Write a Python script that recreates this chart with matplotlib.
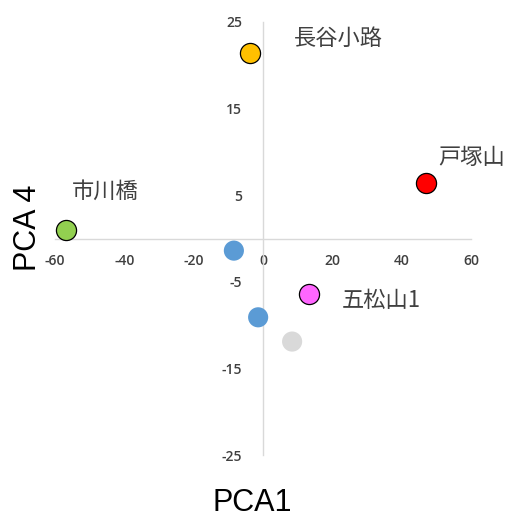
import matplotlib
matplotlib.use("Agg")
import matplotlib.pyplot as plt

# Data
names = ["長谷小路", "戸塚山", "市川橋", "", "五松山1", "", ""]
pca1 = [-3.8, 47.0, -56.8, -8.4, 13.3, -1.4, 8.4]
pca4 = [21.4, 6.4, 1.0, -1.4, -6.4, -9.1, -11.9]
colors = ["#FFC000", "#FF0000", "#92D050", "#5B9BD5", "#FF66FF", "#5B9BD5", "#D9D9D9"]
edged = [True, True, True, False, True, False, False]
xticks = [-60, -40, -20, 0, 20, 40, 60]
yticks = [-25, -15, -5, 5, 15, 25]
# label offsets in data units (text center relative to point)
label_dx = [25.4, 13.3, 11.2, 0, 20.7, 0, 0]
label_dy = [1.7, 3.0, 4.5, 0, -0.8, 0, 0]

fig = plt.figure(figsize=(5.08, 5.19), dpi=100)
ax = fig.add_axes([55/508, 1-455/519, 416/508, 433/519])
ax.set_xlim(-60, 60)
ax.set_ylim(-25, 25)

for s in ["top", "right"]:
    ax.spines[s].set_visible(False)
ax.spines["left"].set_position(("data", 0))
ax.spines["bottom"].set_position(("data", 0))
for s in ["left", "bottom"]:
    ax.spines[s].set_color("#d9d9d9")
    ax.spines[s].set_linewidth(1.0)

ax.set_xticks(xticks)
ax.set_yticks(yticks)
ax.set_xticklabels([str(v) for v in xticks])
ax.set_yticklabels([str(v) for v in yticks])
ax.tick_params(axis="both", length=0, labelsize=10, labelcolor="#404040")
ax.tick_params(axis="x", pad=11)
ax.tick_params(axis="y", pad=15)
for lab in ax.get_xticklabels() + ax.get_yticklabels():
    lab.set_family(["Open Sans", "DejaVu Sans"])
    lab.set_weight("semibold")

for x, y, c, e in zip(pca1, pca4, colors, edged):
    ax.scatter([x], [y], s=210, color=c, edgecolors="black" if e else "none",
               linewidths=0.9 if e else 0, zorder=3, clip_on=False)

for n, x, y, dx, dy in zip(names, pca1, pca4, label_dx, label_dy):
    if n:
        ax.text(x + dx, y + dy, n, ha="center", va="center", fontsize=16,
                color="#404040", family=["Noto Sans CJK JP", "DejaVu Sans"])

fig.text(252/508, 1-503/519, "PCA1", ha="center", va="center", fontsize=22,
         family=["Liberation Sans", "DejaVu Sans"], color="black")
fig.text(28/508, 1-228/519, "PCA 4", ha="center", va="center", fontsize=22,
         rotation=90, family=["Liberation Sans", "DejaVu Sans"], color="black")

fig.savefig("out.png", dpi=100, facecolor="white")
